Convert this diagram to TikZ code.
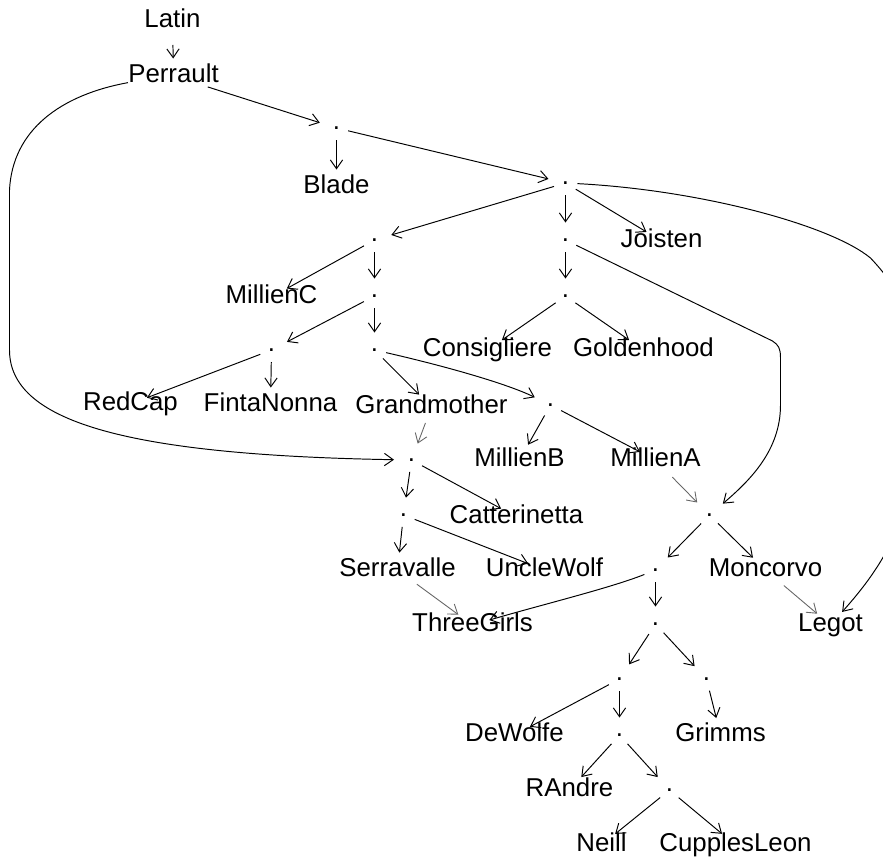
\documentclass[tikz,border=0pt]{standalone}
\usepackage{fontspec}
\setmainfont{Liberation Sans}
\usepackage{tikz}
\usetikzlibrary{arrows.meta,calc}

\begin{document}
\begin{tikzpicture}[
    x=0.02cm, y=-0.02cm,
    lab/.style={inner sep=0pt, text height=0.716em, text depth=0pt, font=\fontsize{14.7pt}{17pt}\selectfont},
    pt/.style={inner sep=0pt, font=\fontsize{14.7pt}{17pt}\selectfont},
    edge/.style={-{Straight Barb[length=5pt,width=7pt]}, line width=0.55pt, shorten <=0.24cm, shorten >=0.35cm},
    fromlab/.style={shorten <=0.48cm},
    grey/.style={draw=black!60, line width=0.5pt}
]
    \useasboundingbox (0,0) rectangle (883,863);
    \clip (0,0) rectangle (883,863);
    \begin{scope}[shift={(0.5,0)}]

    % Top chain
    \node[lab] (lat) at (172,21) {Latin};
    \node[lab] (per) at (173,76) {Perrault};
    \node[pt] (d1) at (336,128) {.};
    \node[lab] (bla) at (336,187) {Blade};
    \node[pt] (d2) at (565,183) {.};

    % Left branch
    \node[pt] (d3) at (374,240) {.};
    \node[lab] (mic) at (271,297) {MillienC};
    \node[pt] (d4) at (374,296) {.};
    \node[pt] (d7) at (271,350) {.};
    \node[pt] (d8) at (374,350) {.};
    \node[lab] (red) at (130,404) {RedCap};
    \node[lab] (fin) at (270,405) {FintaNonna};
    \node[lab] (gra) at (431,407) {Grandmother};
    \node[pt] (d9) at (550,405) {.};
    \node[lab] (mib) at (519,460) {MillienB};
    \node[lab] (mia) at (655,460) {MillienA};
    \node[pt] (d10) at (411,460) {.};
    \node[pt] (d11) at (403,515) {.};
    \node[lab] (cat) at (516,517) {Catterinetta};
    \node[lab] (ser) at (397,570) {Serravalle};
    \node[lab] (unc) at (544,570) {UncleWolf};
    \node[lab] (tg) at (472,625) {ThreeGirls};

    % Right branch
    \node[pt] (d5) at (565,240) {.};
    \node[lab] (joi) at (661,241) {Joisten};
    \node[pt] (d6) at (565,296) {.};
    \node[lab] (con) at (487,350) {Consigliere};
    \node[lab] (gol) at (643,350) {Goldenhood};
    \node[pt] (d12) at (709,515) {.};
    \node[pt] (d13) at (655,570) {.};
    \node[lab] (mon) at (765,570) {Moncorvo};
    \node[lab] (leg) at (830,625) {Legot};
    \node[pt] (d14) at (655,624) {.};
    \node[pt] (d15) at (619,679) {.};
    \node[pt] (d16) at (706,679) {.};
    \node[lab] (dew) at (514,735) {DeWolfe};
    \node[lab] (gri) at (720,735) {Grimms};
    \node[pt] (d17) at (619,735) {.};
    \node[lab] (ran) at (569,790) {RAndre};
    \node[pt] (d18) at (669,790) {.};
    \node[lab] (nei) at (601,845) {Neill};
    \node[lab] (cup) at (735,845) {CupplesLeon};

    % Straight edges
    \draw[edge, fromlab] (lat.center) -- (per.center);
    \draw[edge, shorten <=0.72cm] (per.center) -- (d1.center);
    \draw[edge] (d1.center) -- (bla.center);
    \draw[edge] (d1.center) -- (d2.center);
    \draw[edge] (d2.center) -- (d3.center);
    \draw[edge] (d2.center) -- (d5.center);
    \draw[edge] (d2.center) -- (joi.center);
    \draw[edge] (d3.center) -- (mic.center);
    \draw[edge] (d3.center) -- (d4.center);
    \draw[edge] (d4.center) -- (d7.center);
    \draw[edge] (d4.center) -- (d8.center);
    \draw[edge] (d5.center) -- (d6.center);
    \draw[edge] (d6.center) -- (con.center);
    \draw[edge] (d6.center) -- (gol.center);
    \draw[edge] (d7.center) -- (red.center);
    \draw[edge] (d7.center) -- (fin.center);
    \draw[edge] (d8.center) -- (gra.center);
    \draw[edge] (d9.center) -- (mib.center);
    \draw[edge] (d9.center) -- (mia.center);
    \draw[edge] (d10.center) -- (d11.center);
    \draw[edge] (d10.center) -- (cat.center);
    \draw[edge] (d11.center) -- (ser.center);
    \draw[edge] (d11.center) -- (unc.center);
    \draw[edge] (d12.center) -- (d13.center);
    \draw[edge] (d12.center) -- (mon.center);
    \draw[edge] (d13.center) -- (d14.center);
    \draw[edge] (d14.center) -- (d15.center);
    \draw[edge] (d14.center) -- (d16.center);
    \draw[edge] (d15.center) -- (dew.center);
    \draw[edge] (d15.center) -- (d17.center);
    \draw[edge] (d16.center) -- (gri.center);
    \draw[edge] (d17.center) -- (ran.center);
    \draw[edge] (d17.center) -- (d18.center);
    \draw[edge] (d18.center) -- (nei.center);
    \draw[edge] (d18.center) -- (cup.center);

    % Grey edges
    \draw[edge, fromlab, grey, shorten <=0.34cm] (gra.center) -- (d10.center);
    \draw[edge, fromlab, grey] (mia.center) -- (d12.center);
    \draw[edge, fromlab, grey] (ser.center) -- (tg.center);
    \draw[edge, fromlab, grey] (mon.center) -- (leg.center);

    % Curved edges
    \draw[edge, shorten <=0pt] (per.south west) .. controls (60,95) and (12,130) .. (9,190)
        -- (9,350) .. controls (9,420) and (120,455) .. (d10.center);
    \draw[edge] (d8.center) .. controls (440,365) and (505,383) .. (d9.center);
    \draw[edge] (d13.center) .. controls (610,588) and (540,605) .. (tg.center);
    \draw[edge] (d5.center) -- (772,341) .. controls (778,345) and (780,348) .. (780,358)
        -- (780,405) .. controls (780,450) and (750,480) .. (d12.center);
    \draw[edge] (d2.center) .. controls (700,190) and (830,225) .. (870,258)
        .. controls (905,295) and (910,320) .. (910,380) -- (910,460)
        .. controls (910,530) and (870,580) .. (leg.center);
    \end{scope}
\end{tikzpicture}
\end{document}
